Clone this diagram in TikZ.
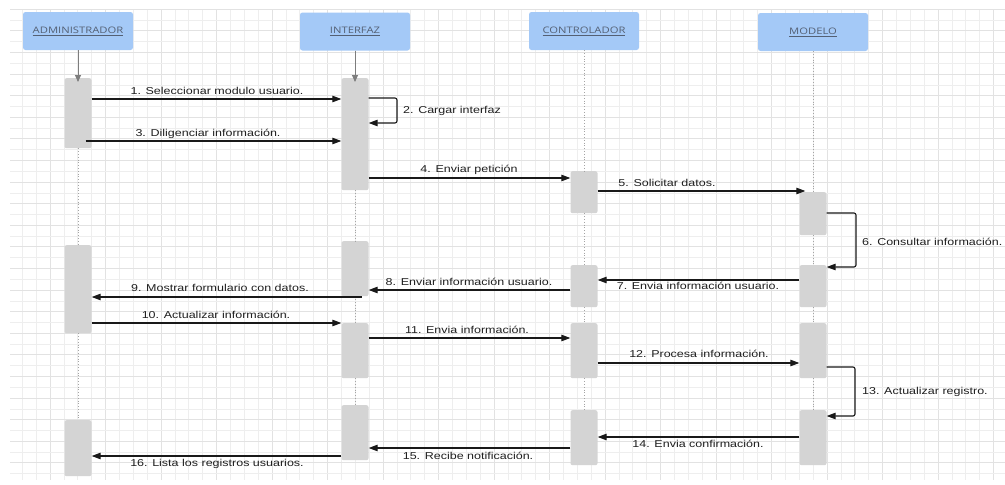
\documentclass[tikz,border=0pt]{standalone}
\usepackage{fontspec}
\setmainfont{Liberation Sans}
\newfontfamily\headfont{Open Sans}
\usetikzlibrary{arrows.meta,calc}

\definecolor{headblue}{RGB}{164,201,247}
\definecolor{headtext}{RGB}{84,96,116}
\definecolor{actgray}{RGB}{212,212,212}
\definecolor{lifegray}{RGB}{125,125,125}
\definecolor{gridminor}{RGB}{238,238,238}
\definecolor{gridmajor}{RGB}{226,226,226}

\newcommand{\wtext}[1]{\scalebox{1.25}[1]{#1}}

\tikzset{
  header/.style={draw=none, fill=headblue, rounded corners=2.5pt,
    minimum width=110pt, minimum height=38pt, inner sep=0pt,
    font=\headfont\fontsize{9}{10}\selectfont, text=headtext},
  actbox/.style={draw=none, fill=actgray, rounded corners=2pt,
    minimum width=27pt, inner sep=0pt, anchor=north},
  msg/.style={draw=black!90, line width=1.1pt,
    -{Triangle[length=9pt,width=6.5pt]}},
  selfmsg/.style={msg, rounded corners=2pt},
  life/.style={draw=lifegray!70, line width=0.8pt, dotted},
  entry/.style={draw=lifegray, line width=0.9pt,
    -{Triangle[length=7pt,width=6pt]}},
  lbl/.style={font=\fontsize{10}{12}\selectfont, text=black!88,
    inner sep=0pt, anchor=base},
  lblw/.style={lbl, anchor=base west},
}

\begin{document}
\begin{tikzpicture}[x=1pt,y=-1pt]
\useasboundingbox (0,0) rectangle (1005,485);
\fill[white] (0,0) rectangle (1005,485);

% background grid
\foreach \k in {-2,...,69} {
  \pgfmathsetmacro{\gx}{50+13.875*\k}
  \pgfmathtruncatemacro{\m}{mod(\k+100,4)}
  \ifnum\m=0
    \draw[gridmajor, line width=0.7pt] (\gx,9) -- (\gx,480);
  \else
    \draw[gridminor, line width=0.6pt] (\gx,9) -- (\gx,480);
  \fi
}
\foreach \k in {0,...,43} {
  \pgfmathsetmacro{\gy}{9.2+10.8*\k}
  \pgfmathtruncatemacro{\m}{mod(\k,2)}
  \ifnum\m=0
    \draw[gridmajor, line width=0.7pt] (10,\gy) -- (1005,\gy);
  \else
    \draw[gridminor, line width=0.6pt] (10,\gy) -- (1005,\gy);
  \fi
}

% participants
\node[header] (hadm) at (78,31)  {\wtext{\underline{ADMINISTRADOR}}};
\node[header] (hint) at (355,31.5) {\wtext{\underline{INTERFAZ}}};
\node[header] (hcon) at (584,31) {\wtext{\underline{CONTROLADOR}}};
\node[header] (hmod) at (813,32) {\wtext{\underline{MODELO}}};

% activation bars
\node[actbox, minimum height=70pt] (a1) at (78,78)  {};
\node[actbox, minimum height=88pt] (a2) at (78,245) {};
\node[actbox, minimum height=56pt] (a3) at (78,420) {};

\node[actbox, minimum height=112pt] (i1) at (355,78)  {};
\node[actbox, minimum height=55pt]  (i2) at (355,241) {};
\node[actbox, minimum height=55pt]  (i3) at (355,323) {};
\node[actbox, minimum height=55pt]  (i4) at (355,405) {};

\node[actbox, minimum height=42pt] (c1) at (584,171) {};
\node[actbox, minimum height=42pt] (c2) at (584,265) {};
\node[actbox, minimum height=55pt] (c3) at (584,323) {};
\node[actbox, minimum height=55pt] (c4) at (584,410) {};

\node[actbox, minimum height=43pt] (m1) at (813,192) {};
\node[actbox, minimum height=42pt] (m2) at (813,265) {};
\node[actbox, minimum height=55pt] (m3) at (813,323) {};
\node[actbox, minimum height=55pt] (m4) at (813,410) {};

% lifelines
\draw[entry] (hadm.south) -- ([yshift=-4pt]a1.north);
\draw[entry] (hint.south) -- ([yshift=-4pt]i1.north);
\draw[life] (a1.south) -- (a2.north);
\draw[life] (a2.south) -- (a3.north);
\draw[life] (i1.south) -- (i2.north);
\draw[life] (i2.south) -- (i3.north);
\draw[life] (i3.south) -- (i4.north);
\draw[life] (hcon.south) -- (c1.north);
\draw[life] (c1.south) -- (c2.north);
\draw[life] (c2.south) -- (c3.north);
\draw[life] (c3.south) -- (c4.north);
\draw[life] (hmod.south) -- (m1.north);
\draw[life] (m1.south) -- (m2.north);
\draw[life] (m2.south) -- (m3.north);
\draw[life] (m3.south) -- (m4.north);

% messages
\draw[msg] (a1.east |- 0,99) -- (i1.west |- 0,99);
\node[lbl] (l1) at (217,94) {\wtext{1. Seleccionar modulo usuario.}};

\draw[selfmsg] (i1.east |- 0,98) -- (397,98) -- (397,123) -- (i1.east |- 0,123);
\node[lblw] (l2) at (403,113) {\wtext{2. Cargar interfaz}};

\draw[msg] ([xshift=-6pt]a1.east |- 0,141) -- (i1.west |- 0,141);
\node[lbl] (l3) at (208,136) {\wtext{3. Diligenciar información.}};

\draw[msg] (i1.east |- 0,178) -- (c1.west |- 0,178);
\node[lbl] (l4) at (469,172) {\wtext{4. Enviar petición}};

\draw[msg] (c1.east |- 0,191) -- ([xshift=6pt]m1.west |- 0,191);
\node[lbl] (l5) at (667,186) {\wtext{5. Solicitar datos.}};

\draw[selfmsg] (m1.east |- 0,213) -- (856,213) -- (856,267) -- (m2.east |- 0,267);
\node[lblw] (l6) at (862,245) {\wtext{6. Consultar información.}};

\draw[msg] (m2.west |- 0,280) -- (c2.east |- 0,280);
\node[lbl] (l7) at (698,289) {\wtext{7. Envia información usuario.}};

\draw[msg] (c2.west |- 0,290) -- (i2.east |- 0,290);
\node[lbl] (l8) at (469,285) {\wtext{8. Enviar información usuario.}};

\draw[msg] ([xshift=-7pt]i2.east |- 0,297) -- (a2.east |- 0,297);
\node[lbl] (l9) at (220,291) {\wtext{9. Mostrar formulario con datos.}};

\draw[msg] (a2.east |- 0,323) -- (i3.west |- 0,323);
\node[lbl] (l10) at (216,318) {\wtext{10. Actualizar información.}};

\draw[msg] (i3.east |- 0,338) -- (c3.west |- 0,338);
\node[lbl] (l11) at (467,333) {\wtext{11. Envia información.}};

\draw[msg] (c3.east |- 0,363) -- (m3.west |- 0,363);
\node[lbl] (l12) at (699,357) {\wtext{12. Procesa información.}};

\draw[selfmsg] (m3.east |- 0,367) -- (855,367) -- (855,416) -- (m4.east |- 0,416);
\node[lblw] (l13) at (862,394) {\wtext{13. Actualizar registro.}};

\draw[msg] (m4.west |- 0,437) -- (c4.east |- 0,437);
\node[lbl] (l14) at (698,447) {\wtext{14. Envia confirmación.}};

\draw[msg] (c4.west |- 0,448) -- (i4.east |- 0,448);
\node[lbl] (l15) at (468,459) {\wtext{15. Recibe notificación.}};

\draw[msg] (i4.west |- 0,456) -- (a3.east |- 0,456);
\node[lbl] (l16) at (217,466) {\wtext{16. Lista los registros usuarios.}};
\end{tikzpicture}
\end{document}
